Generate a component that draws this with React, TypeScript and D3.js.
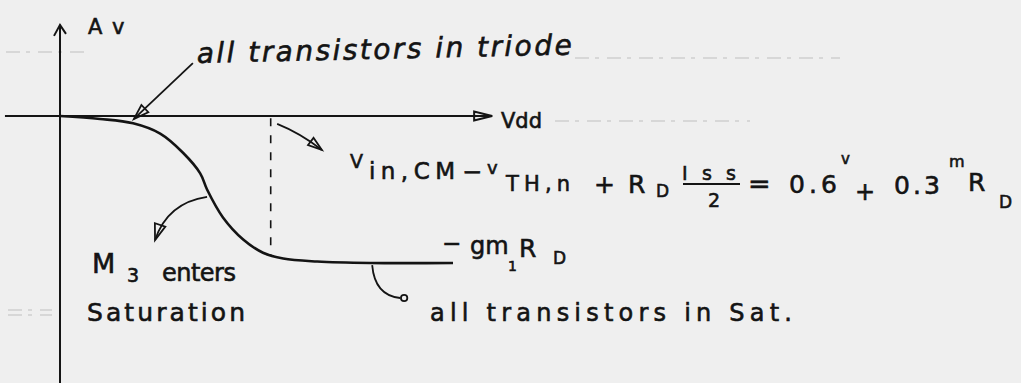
import React from "react";
import * as d3 from "d3";

// Av vs Vdd sketch (Av in % of gm1*RD, Vdd in arbitrary units 0..100)
const vdd = [0, 9.3, 17, 23.3, 28.6, 32.6, 34.2, 37.9, 42.6, 47.2, 51.9, 59.8, 72.1, 91.4];
const av = [0, -2, -5, -12, -25, -39, -50, -69, -84, -93, -97, -99, -100, -100];
const vSat = 49;

const W = 1021;
const H = 383;
const INK = "#141414";
const FAINT = "#cfcfcf";
const FONT = "'DejaVu Sans', sans-serif";

const x = d3.scaleLinear().domain([0, 100]).range([60, 490]);
const y = d3.scaleLinear().domain([0, -100]).range([116, 263]);

// open triangle arrow head, tip at (tx,ty), coming from (fx,fy)
function head(tx: number, ty: number, fx: number, fy: number, len = 13, half = 5) {
  const a = Math.atan2(ty - fy, tx - fx);
  const bx = tx - len * Math.cos(a);
  const by = ty - len * Math.sin(a);
  const px = -Math.sin(a) * half;
  const py = Math.cos(a) * half;
  return `M${tx},${ty}L${bx + px},${by + py}L${bx - px},${by - py}Z`;
}

function pt(v: number, a: number): [number, number] {
  return [x(v), y(a)];
}

export default function App() {
  const line = d3
    .line<number>()
    .x((d, i) => x(vdd[i]))
    .y((d) => y(d))
    .curve(d3.curveCatmullRom.alpha(0.5));

  // annotation arrows, in data units
  const tri0 = pt(30.9, 36), tri1 = pt(17.2, -2);
  const sm0 = pt(50.5, -5.4), smC = pt(55.8, -11.6), sm1 = pt(60.9, -23.1);
  const m30 = pt(34.2, -55), m3C = pt(25, -59), m31 = pt(22.1, -84.4);
  const st0 = pt(72.6, -101.4), stC = pt(73.2, -122), st1 = pt(79.1, -123.8);

  const t = { fill: INK, fontFamily: FONT, stroke: INK, strokeWidth: 0.6 } as const;

  return (
    <svg width={W} height={H} style={{ position: "absolute", left: 0, top: 0, background: "#efefef" }}>
      {/* faint notebook lines */}
      <g stroke={FAINT} strokeWidth={1.5} strokeDasharray="14 6 4 8">
        <line x1={6} x2={84} y1={52} y2={52} />
        <line x1={575} x2={840} y1={58} y2={58} />
        <line x1={555} x2={750} y1={121} y2={121} />
        <line x1={8} x2={52} y1={310} y2={310} />
        <line x1={8} x2={52} y1={315} y2={315} />
      </g>

      {/* axes */}
      <g stroke={INK} strokeWidth={2} fill="none">
        <line x1={x(-12.8)} x2={x(100.5)} y1={y(0)} y2={y(0)} />
        <line x1={x(0)} x2={x(0)} y1={y(62)} y2={H} />
        <path d={head(x(100.5), y(0), x(90), y(0), 18, 4.5)} />
        <path d={`M${x(0) - 6},${y(62) + 11}L${x(0)},${y(62)}L${x(0) + 6},${y(62) + 9}`} />
      </g>

      {/* Av curve */}
      <path d={line(av) || ""} fill="none" stroke={INK} strokeWidth={2.6} />

      {/* dashed boundary */}
      <line x1={x(vSat)} x2={x(vSat)} y1={y(-1.5)} y2={y(-95)} stroke={INK} strokeWidth={1.6} strokeDasharray="8 9" />

      {/* arrows */}
      <g stroke={INK} strokeWidth={1.8} fill="none">
        <line x1={tri0[0]} y1={tri0[1]} x2={tri1[0]} y2={tri1[1]} />
        <path d={head(tri1[0], tri1[1], tri0[0], tri0[1], 15, 5)} />
        <path d={`M${sm0[0]},${sm0[1]}Q${smC[0]},${smC[1]} ${sm1[0]},${sm1[1]}`} />
        <path d={head(sm1[0], sm1[1], smC[0], smC[1], 14, 4.5)} />
        <path d={`M${m30[0]},${m30[1]}Q${m3C[0]},${m3C[1]} ${m31[0]},${m31[1]}`} />
        <path d={head(m31[0], m31[1], m3C[0], m3C[1], 16, 5.5)} />
        <path d={`M${st0[0]},${st0[1]}Q${stC[0]},${stC[1]} ${st1[0]},${st1[1]}`} />
        <circle cx={st1[0] + 4} cy={st1[1]} r={3.2} />
      </g>

      {/* labels */}
      <text {...t} x={88} y={34} fontSize={21}>A</text>
      <text {...t} x={112} y={34} fontSize={21}>v</text>
      <text {...t} x={501} y={128} fontSize={21}>Vdd</text>

      <text {...t} x={197} y={63} fontSize={28} fontStyle="italic" textLength={375} transform="rotate(-1.3 197 63)">
        all transistors in triode
      </text>

      {/* equation */}
      <g {...t}>
        <text x={350} y={168} fontSize={19}>V</text>
        <text x={369} y={179} fontSize={23} textLength={86}>in,CM</text>
        <text x={462} y={180} fontSize={24}>−</text>
        <text x={487} y={174} fontSize={18}>v</text>
        <text x={506} y={191} fontSize={21} textLength={64}>TH,n</text>
        <text x={594} y={193} fontSize={25}>+</text>
        <text x={628} y={193} fontSize={25}>R</text>
        <text x={656} y={197} fontSize={17}>D</text>
        <text x={682} y={180} fontSize={19} textLength={54}>Iss</text>
        <line x1={683} x2={740} y1={184} y2={184} stroke={INK} strokeWidth={2.2} />
        <text x={708} y={207} fontSize={19}>2</text>
        <text x={748} y={193} fontSize={27}>=</text>
        <text x={789} y={193} fontSize={25} textLength={48}>0.6</text>
        <text x={841} y={164} fontSize={15}>v</text>
        <text x={855} y={200} fontSize={24}>+</text>
        <text x={894} y={194} fontSize={25} textLength={46}>0.3</text>
        <text x={949} y={167} fontSize={16}>m</text>
        <text x={968} y={191} fontSize={25}>R</text>
        <text x={999} y={208} fontSize={17}>D</text>
      </g>

      {/* -gm1 RD */}
      <g {...t}>
        <text x={442} y={251} fontSize={23}>−</text>
        <text x={470} y={254} fontSize={24}>gm</text>
        <text x={508} y={271} fontSize={14}>1</text>
        <text x={519} y={257} fontSize={25}>R</text>
        <text x={553} y={264} fontSize={17}>D</text>
      </g>

      <text {...t} x={92} y={273} fontSize={27}>M</text>
      <text {...t} x={127} y={282} fontSize={19}>3</text>
      <text {...t} x={162} y={281} fontSize={24} textLength={74}>enters</text>
      <text {...t} x={87} y={321} fontSize={25} textLength={158}>Saturation</text>

      <text {...t} x={430} y={321} fontSize={24} textLength={362}>all transistors in Sat.</text>
    </svg>
  );
}
